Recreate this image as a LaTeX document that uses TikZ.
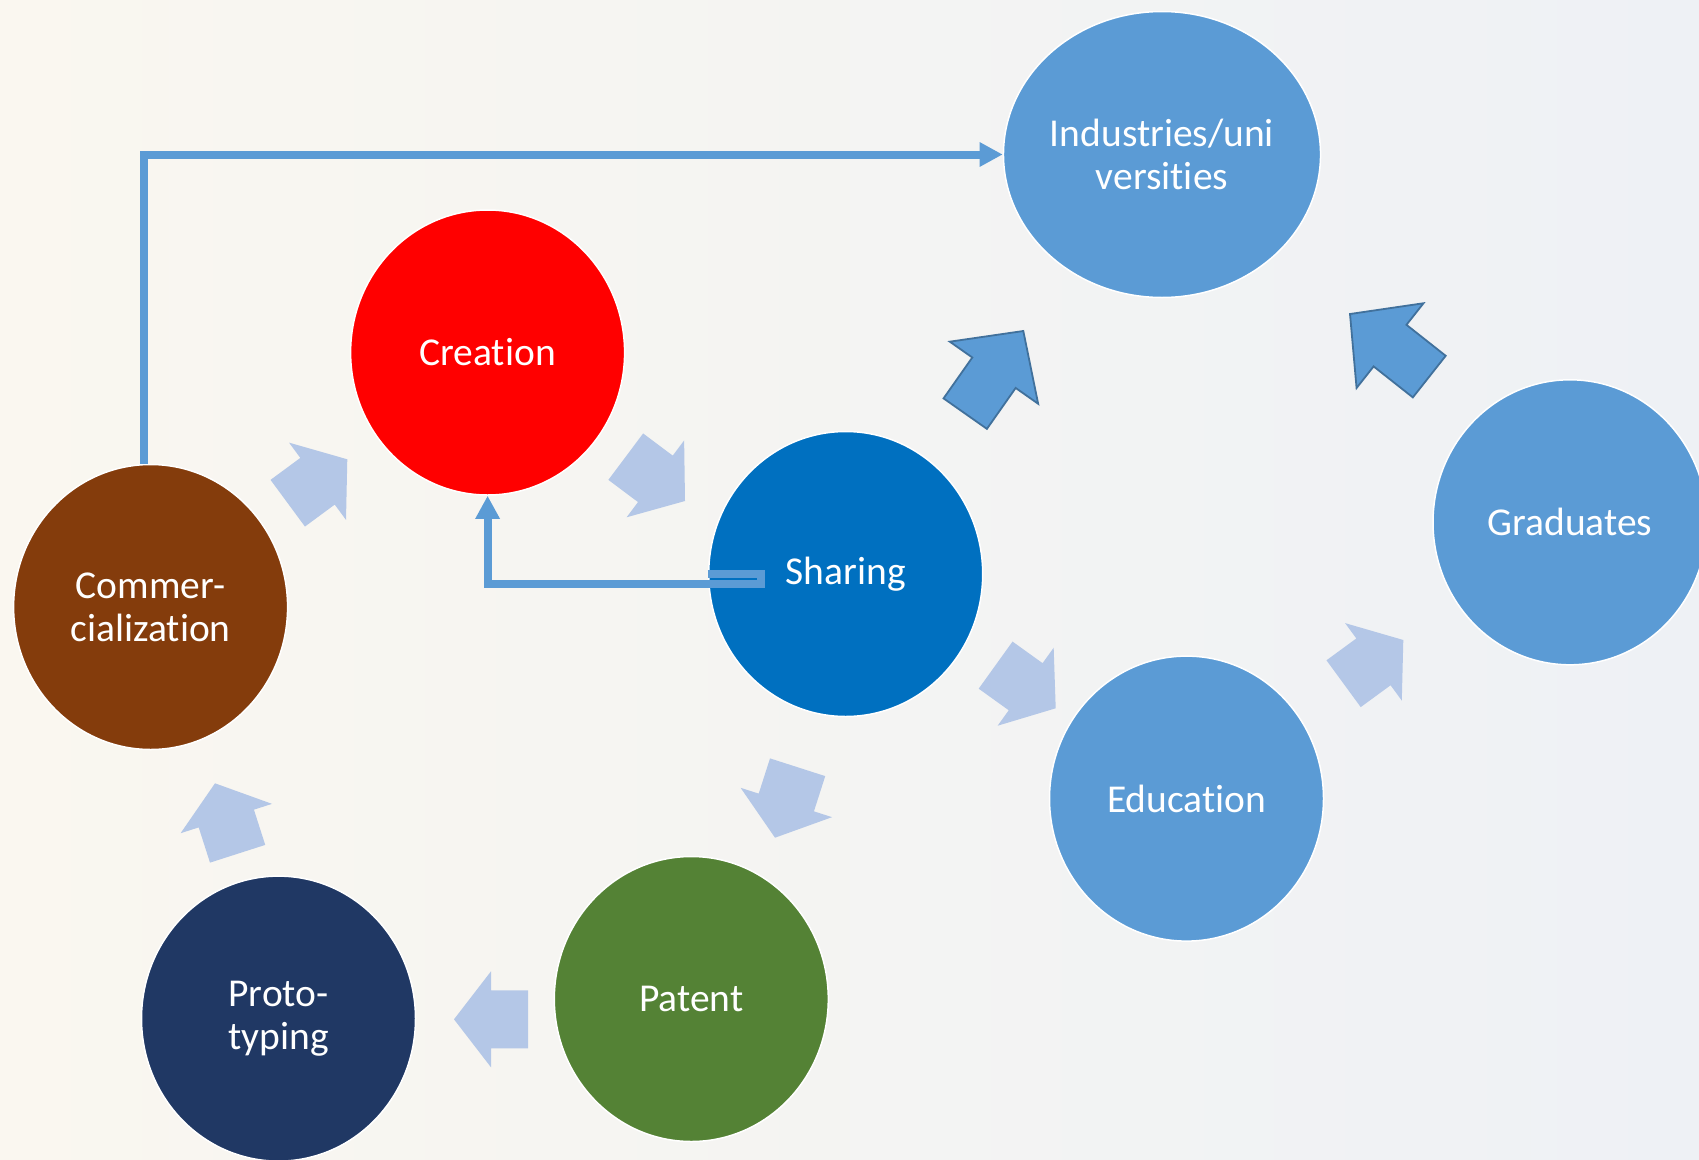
\documentclass[tikz,border=0pt]{standalone}
\usepackage{fontspec}
\setmainfont{Carlito}[Ligatures={NoCommon}]
\usetikzlibrary{arrows.meta,shapes.geometric}
\definecolor{midblue}{HTML}{5B9BD5}
\definecolor{shareblue}{HTML}{0070C0}
\definecolor{brownc}{HTML}{843C0C}
\definecolor{greenc}{HTML}{548235}
\definecolor{navyc}{HTML}{203864}
\definecolor{lightarr}{HTML}{B4C7E7}
\definecolor{darkedge}{HTML}{41719C}
\definecolor{bgleft}{HTML}{FAF7F0}
\definecolor{bgright}{HTML}{EEF1F5}
\newcommand{\BlockArr}[4]{\path[#1,shift={(#2,#3)},rotate=#4] (0,0) -- (-37,48) -- (-37,29) -- (-74,29) -- (-74,-29) -- (-37,-29) -- (-37,-48) -- cycle;}
\newcommand{\BigArr}[4]{\path[#1,shift={(#2,#3)},rotate=#4] (0,0) -- (-51,54) -- (-51,26.5) -- (-101,26.5) -- (-101,-26.5) -- (-51,-26.5) -- (-51,-54) -- cycle;}
\begin{document}
\begin{tikzpicture}[x=1pt,y=-1pt,
  bubble/.style={ellipse, draw=white, line width=1.5pt, inner sep=0pt,
    minimum width=274pt, minimum height=285pt, text=white, align=center,
    font=\fontsize{39.5}{43}\selectfont},
  conn/.style={draw=midblue, line width=8pt, -{Triangle[length=23pt,width=23pt]}},
  flowarrow/.style={fill=lightarr},
  bigarrow/.style={fill=midblue, draw=darkedge, line width=1.8pt, line join=miter}]
\useasboundingbox (0,0) rectangle (1699,1159);
\clip (0,0) rectangle (1699,1159);
\shade[left color=bgleft, middle color=white, right color=bgright] (0,0) rectangle (1699,1159);

\node[bubble, fill=midblue, minimum width=306pt, minimum height=286pt] (ind) at (1162,154.5) {Industries/uni\\versities};
\node[bubble, fill=red] (cre) at (487.6,352.5) {Creation};
\node[bubble, fill=shareblue] (sha) at (845.7,574) {Sharing};
\node[bubble, fill=brownc] (com) at (150.6,607) {Commer-\\cialization};
\node[bubble, fill=midblue] (gra) at (1570,522.3) {Graduates};
\node[bubble, fill=midblue] (edu) at (1186.5,798.6) {Education};
\node[bubble, fill=greenc] (pat) at (691.3,999) {Patent};
\node[bubble, fill=navyc] (pro) at (278.5,1018.6) {Proto-\\typing};

\draw[conn] ([xshift=-6.6pt]com.north) |- (ind.west);
\draw[conn] (sha.west) -- ++(53,0) -- ++(0,10) -| (cre.south);

\BlockArr{flowarrow}{347.3}{459.3}{36.4}
\BlockArr{flowarrow}{685}{501}{-36.8}
\BlockArr{flowarrow}{1055.7}{708.3}{-35.7}
\BlockArr{flowarrow}{1403.3}{640}{36.2}
\BlockArr{flowarrow}{775}{837.7}{-107.8}
\BlockArr{flowarrow}{454}{1019.3}{180}
\BlockArr{flowarrow}{215}{783.3}{107.8}

\BigArr{bigarrow}{1023.3}{331}{54.9}
\BigArr{bigarrow}{1350}{314}{141.7}
\end{tikzpicture}
\end{document}
